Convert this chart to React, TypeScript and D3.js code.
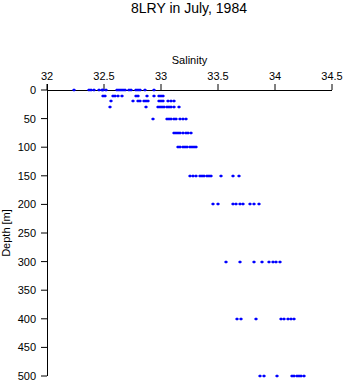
import React from "react";
import * as d3 from "d3";

const TITLE = "8LRY in July, 1984";
const X_LABEL = "Salinity";
const Y_LABEL = "Depth [m]";
const xTicks = [32, 32.5, 33, 33.5, 34, 34.5];
const yTicks = [0, 50, 100, 150, 200, 250, 300, 350, 400, 450, 500];

const depths = [0, 10, 20, 30, 50, 75, 100, 150, 200, 300, 400, 500];
const sal0 = [32.24, 32.37, 32.39, 32.41, 32.46, 32.48, 32.49, 32.52, 32.61, 32.63, 32.65, 32.67, 32.68, 32.72, 32.74, 32.78, 32.8, 32.82, 32.86, 32.94];
const sal10 = [32.49, 32.51, 32.58, 32.6, 32.62, 32.66, 32.78, 32.8, 32.88, 32.94, 32.98, 33.0, 33.02];
const sal20 = [32.56, 32.75, 32.8, 32.82, 32.85, 32.87, 32.89, 32.98, 33.0, 33.02, 33.06, 33.09, 33.11];
const sal30 = [32.55, 32.87, 32.97, 32.99, 33.01, 33.03, 33.05, 33.07, 33.09, 33.11, 33.16];
const sal50 = [32.93, 33.05, 33.07, 33.09, 33.11, 33.13, 33.17, 33.19, 33.22];
const sal75 = [33.11, 33.13, 33.15, 33.17, 33.19, 33.22, 33.24, 33.26];
const sal100 = [33.15, 33.17, 33.19, 33.21, 33.23, 33.25, 33.27, 33.29, 33.31];
const sal150 = [33.25, 33.28, 33.31, 33.34, 33.36, 33.38, 33.4, 33.42, 33.44, 33.53, 33.63, 33.68];
const sal200 = [33.46, 33.5, 33.63, 33.66, 33.69, 33.72, 33.78, 33.82, 33.86];
const sal300 = [33.57, 33.69, 33.82, 33.89, 33.95, 33.98, 34.01, 34.04];
const sal400 = [33.67, 33.7, 33.83, 34.05, 34.08, 34.11, 34.14, 34.17];
const sal500 = [33.87, 33.9, 34.02, 34.15, 34.17, 34.19, 34.21, 34.23, 34.25];

const salinityByDepth = [sal0, sal10, sal20, sal30, sal50, sal75, sal100, sal150, sal200, sal300, sal400, sal500];

export default function App() {
  const left = 47, right = 332, top = 90, bottom = 376;
  const x = d3.scaleLinear().domain([32, 34.5]).range([left, right]);
  const y = d3.scaleLinear().domain([0, 500]).range([top, bottom]);
  const points: { s: number; d: number }[] = [];
  depths.forEach((d, i) => salinityByDepth[i].forEach((s) => points.push({ s, d })));
  const font = "Helvetica, Arial, 'Liberation Sans', sans-serif";
  const blue = "#0000ff";
  return (
    <svg width={346} height={384} style={{ position: "absolute", left: 0, top: 0, background: "#fff" }} fontFamily={font}>
      <rect width={346} height={384} fill="#fff" />
      <text x={189} y={13} textAnchor="middle" fontSize={14}>{TITLE}</text>
      <text x={(left + right) / 2} y={64} textAnchor="middle" fontSize={11}>{X_LABEL}</text>
      {xTicks.map((t) => (
        <g key={"x" + t}>
          <line x1={x(t)} x2={x(t)} y1={top} y2={top - 6} stroke="#000" />
          <text x={x(t)} y={80} textAnchor="middle" fontSize={11}>{t}</text>
        </g>
      ))}
      {yTicks.map((t) => (
        <g key={"y" + t}>
          <line x1={left} x2={left - 6} y1={y(t)} y2={y(t)} stroke="#000" />
          <text x={36} y={y(t) + 4} textAnchor="end" fontSize={11}>{t}</text>
        </g>
      ))}
      <line x1={left} x2={right} y1={top + 0.5} y2={top + 0.5} stroke="#000" />
      <line x1={left + 0.5} x2={left + 0.5} y1={top - 6} y2={bottom} stroke="#000" />
      <text transform={`translate(10,${(top + bottom) / 2}) rotate(-90)`} textAnchor="middle" fontSize={11}>{Y_LABEL}</text>
      {points.map((p, i) => (
        <g key={i} fill={blue}>
          <rect x={Math.round(x(p.s)) - 1.5} y={Math.round(y(p.d)) - 1} width={3} height={2} />
          <rect x={Math.round(x(p.s)) - 0.5} y={Math.round(y(p.d)) - 1.5} width={1} height={3} />
        </g>
      ))}
    </svg>
  );
}
